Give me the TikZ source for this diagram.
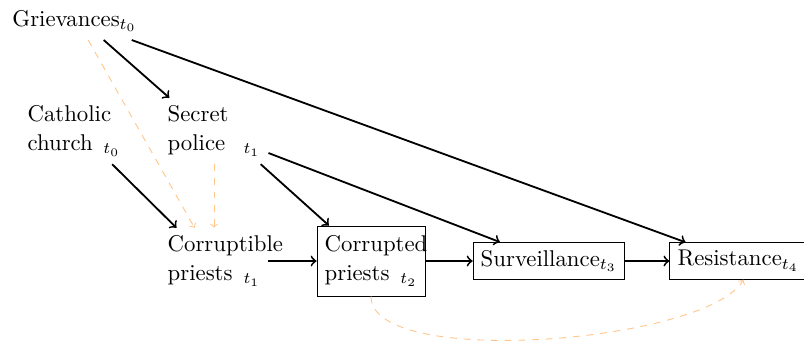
\documentclass[tikz,border=0pt]{standalone}
\usepackage{amsmath}
\usepackage{tikz}
\begin{document}
\begin{tikzpicture}[
	every node/.style={font=\fontsize{10}{12.5}\selectfont},
	var/.style={text width=1.43cm,align=left,inner sep=3.33pt},
	box/.style={draw,inner sep=3.33pt},
	cause/.style={thick,->},
	confound/.style={->,dashed,color=orange!45}]
	\useasboundingbox (0,0) rectangle (12.395,5.365);
	\node (griev) at (1.149,5.04) {Grievances$_{t_0}$};
	\node[var] (church) at (1.14,3.345) {Catholic\\church \hfill$_{t_0}$};
	\node[var] (police) at (3.30,3.345) {Secret\\police \hfill$_{t_1}$};
	\node[var] (corruptible) at (3.30,1.341) {Corruptible\\priests \hfill$_{t_1}$};
	\node[var,box,minimum height=1.08cm] (corrupted) at (5.72,1.341) {Corrupted\\priests \hfill$_{t_2}$};
	\node[box] (surv) at (8.46,1.341) {Surveillance$_{t_3}$};
	\node[box] (resist) at (11.38,1.341) {Resistance$_{t_4}$};
	\draw[cause] (griev.-33) -- ([xshift=0.15cm]police.north west);
	\draw[cause] ([xshift=-0.2cm]griev.south east) -- ([xshift=0.25cm]resist.north west);
	\draw[cause] ([xshift=-0.25cm]church.south east) -- ([xshift=0.26cm]corruptible.north west);
	\draw[cause] ([xshift=-0.12cm]police.south east) -- ([xshift=0.19cm]corrupted.north west);
	\draw[cause] (police.-22) -- ([xshift=0.42cm]surv.north west);
	\draw[cause] (corruptible) -- (corrupted);
	\draw[cause] (corrupted) -- (surv);
	\draw[cause] (surv) -- (resist);
	\draw[confound] ([xshift=0.21cm]griev.south) -- ([xshift=-0.3cm]corruptible.north);
	\draw[confound] (police.south) -- (corruptible.north);
	\draw[confound] (corrupted.south) to[out=-90,in=-120,looseness=0.5] ([xshift=0.08cm]resist.south);
\end{tikzpicture}
\end{document}
